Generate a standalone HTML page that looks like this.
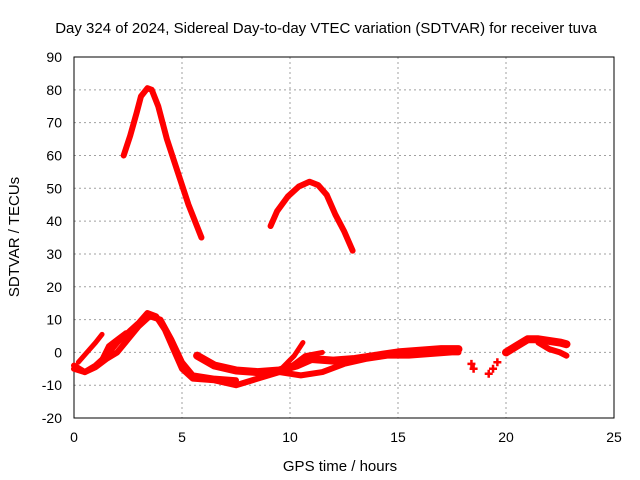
<!DOCTYPE html>
<html><head><meta charset="utf-8"><style>body{margin:0;background:#fff}svg{display:block;font-family:"Liberation Sans",sans-serif}</style></head>
<body>
<svg id="chart" width="640" height="480" xmlns="http://www.w3.org/2000/svg">
<text x="326" y="33" font-size="15" text-anchor="middle">Day 324 of 2024, Sidereal Day-to-day VTEC variation (SDTVAR) for receiver tuva</text>
<g id="grid"></g>
<g id="axes"></g>
<g id="series"></g>
<text x="340" y="471" font-size="15" text-anchor="middle">GPS time / hours</text>
<text transform="translate(19,237) rotate(-90)" font-size="15" text-anchor="middle">SDTVAR / TECUs</text>
</svg>
<script>
const xTicks=[0,5,10,15,20,25];
const yTicks=[-20,-10,0,10,20,30,40,50,60,70,80,90];
const arc1=[[2.3,60],[2.6,66],[2.9,73],[3.1,78],[3.4,80.5],[3.6,80],[3.9,75],[4.3,65],[4.8,55],[5.3,45],[5.9,35]];
const arc2=[[9.1,38.5],[9.4,43],[9.9,47.5],[10.4,50.5],[10.9,52],[11.3,51],[11.7,48],[12.1,42],[12.5,37],[12.9,31]];
const lowA=[[0,-5],[0.5,-6],[1,-4],[1.5,-1],[2,3],[2.5,6],[3,9],[3.4,12],[3.8,11],[4.2,7],[4.6,1],[5,-5],[5.5,-8],[6.5,-8.5],[7.5,-10],[8.5,-8],[9.5,-6],[10.5,-7],[11.5,-6],[12.5,-3.5],[13.5,-2],[14.5,-1],[15.5,-1],[16.5,-0.5],[17.5,0],[17.8,0]];
const lowB=[[0,-4],[0.5,-6],[1,-4.5],[1.5,-2],[2,0],[2.5,4],[3,8],[3.5,11],[4,10],[4.5,4],[5,-3],[5.5,-7],[6.5,-8],[7.5,-8.5]];
const lowC=[[5.7,-1],[6.5,-4],[7.5,-5.5],[8.5,-6],[9.5,-5.5],[10.3,-4],[11,-2],[12,-2.5],[13,-2],[14,-1],[15,0],[16,0.5],[17,1],[17.8,1]];
const spike=[[9.6,-5],[10.2,-1],[10.6,3]];
const branch=[[10,-4.5],[10.7,-1],[11.5,0]];
const small1=[[0.2,-3],[0.6,0],[1.0,3],[1.3,5.5]];
const small2=[[1.3,-2],[1.6,2],[2,4],[2.4,6]];
const grp1=[[18.4,-3.5],[18.5,-5]];
const grp2=[[19.2,-6.5],[19.4,-5],[19.6,-3]];
const lateA=[[20,0],[20.5,2],[21,4],[21.5,4],[22,3.5],[22.5,3],[22.8,2.5]];
const lateB=[[21.5,3],[22,1],[22.5,0],[22.8,-1]];
const X=v=>74+v*21.6, Y=v=>352.4-v*3.282;
const NS="http://www.w3.org/2000/svg";
function mk(t,a,p){const e=document.createElementNS(NS,t);for(const k in a)e.setAttribute(k,a[k]);p.appendChild(e);return e;}
const g=document.getElementById('grid'),ax=document.getElementById('axes'),s=document.getElementById('series');
xTicks.forEach(t=>{if(t>0&&t<25){const l=mk('line',{x1:X(t),x2:X(t),y1:57,y2:418,stroke:'#a0a0a0','stroke-dasharray':'2,3'},g);

}
const tx=mk('text',{x:X(t),y:442,'font-size':14,'text-anchor':'middle'},ax);tx.textContent=t;

});
yTicks.forEach(t=>{if(t>-20&&t<90){const l=mk('line',{x1:74,x2:614,y1:Y(t),y2:Y(t),stroke:'#a0a0a0','stroke-dasharray':'2,3'},g);

}
const tx=mk('text',{x:62,y:Y(t)+5,'font-size':14,'text-anchor':'end'},ax);tx.textContent=t;

});
const fr=mk('rect',{x:74,y:57,width:540,height:361,fill:'none',stroke:'#000'},ax);


const widths=[6,6,6,6,8,5,5,5,5,8,6];
[arc1,arc2,lowA,lowB,lowC,spike,branch,small1,small2,lateA,lateB].forEach((d,i)=>{
const p=mk('polyline',{points:d.map(q=>X(q[0])+','+Y(q[1])).join(' '),fill:'none',stroke:'#ff0000','stroke-width':widths[i],'stroke-linejoin':'round','stroke-linecap':'round'},s);

});
[grp1,grp2].forEach(d=>d.forEach(q=>{
const p=mk('path',{d:`M${X(q[0])-4},${Y(q[1])}h8M${X(q[0])},${Y(q[1])-4}v8`,stroke:'#ff0000','stroke-width':2.5},s);

}));
</script>
</body></html>
